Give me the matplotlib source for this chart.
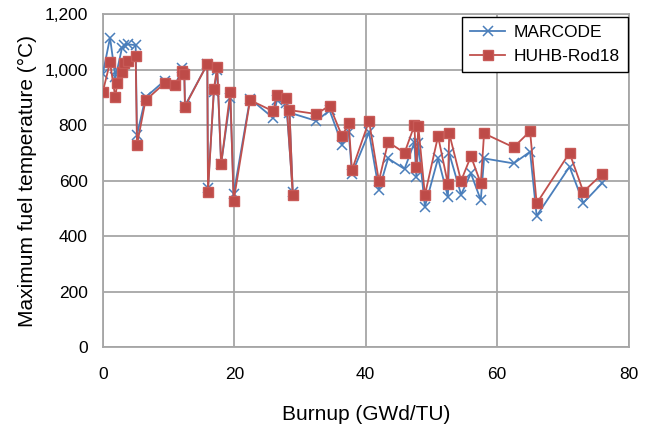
import matplotlib
matplotlib.use("Agg")
import matplotlib.pyplot as plt
from matplotlib.ticker import FuncFormatter

plt.rcParams['font.family'] = ['Liberation Sans', 'DejaVu Sans']

# burnup points (GWd/TU), shared by both series
burnup = [0.0, 1.1, 1.9, 2.2, 2.9, 3.3, 3.8, 5.0, 5.2, 6.5, 9.4, 11.0, 12.1, 12.4, 12.5,
          15.9, 16.0, 16.9, 17.4, 18.0, 19.4, 19.9, 22.4, 25.9, 26.5, 27.9, 28.9, 28.4,
          32.5, 34.5, 36.4, 37.4, 37.9, 40.5, 42.0, 43.4, 45.9, 47.4, 47.7, 48.0, 49.0,
          51.0, 52.5, 52.7, 54.5, 56.0, 57.5, 58.0, 62.5, 65.0, 66.0, 71.0, 73.1, 76.0]

# maximum fuel temperature (C)
marcode = [985, 1115, 975, 1000, 1076, 1088, 1091, 1088, 764, 900, 960, 944, 1004, 985, 870,
           1020, 575, 920, 1000, 660, 896, 552, 895, 826, 890, 880, 560, 845,
           815, 853, 730, 776, 625, 774, 566, 680, 642, 738, 612, 735, 506,
           680, 542, 698, 550, 626, 530, 680, 662, 704, 473, 650, 520, 592]
huhb = [920, 1026, 900, 952, 991, 1022, 1030, 1050, 729, 889, 951, 944, 996, 983, 867,
        1020, 560, 930, 1010, 659, 920, 527, 890, 850, 908, 898, 550, 854,
        840, 870, 760, 807, 638, 815, 599, 739, 700, 799, 648, 796, 548,
        760, 588, 770, 599, 688, 590, 770, 720, 778, 518, 700, 560, 624]

fig = plt.figure(figsize=(6.59, 4.26), dpi=100)
ax = fig.add_axes([0.156, 0.185, 0.798, 0.782])

ax.plot(burnup, marcode, color='#4a7ebb', lw=1.3, marker='x', ms=7, mew=1.1,
        label='MARCODE', zorder=3)
ax.plot(burnup, huhb, color='#c0504d', lw=1.3, marker='s', ms=6.5, mec='#c85a57',
        mfc='#be4b48', label='HUHB-Rod18', zorder=4)

ax.set_xlim(0, 80)
ax.set_ylim(0, 1200)
ax.set_xticks([0, 20, 40, 60, 80])
ax.set_yticks([0, 200, 400, 600, 800, 1000, 1200])
ax.yaxis.set_major_formatter(FuncFormatter(lambda v, p: f"{int(v):,}"))
ax.grid(True, color='#a6a6a6', lw=1.3)
ax.set_axisbelow(True)
for s in ax.spines.values():
    s.set_color('#a6a6a6')
    s.set_linewidth(1.3)
ax.tick_params(length=0, labelsize=12.5)
ax.tick_params(axis='x', pad=14)
ax.tick_params(axis='y', pad=11)

ax.set_xlabel('Burnup (GWd/TU)', fontsize=15, labelpad=17)
ax.set_ylabel('Maximum fuel temperature (°C)', fontsize=15, labelpad=5)

leg = ax.legend(loc='upper right', bbox_to_anchor=(0.998, 0.99), fontsize=12.5,
                fancybox=False, edgecolor='black', framealpha=1, handlelength=2.0,
                borderaxespad=0, borderpad=0.45, labelspacing=0.5,
                handletextpad=0.5)
leg._legend_box.sep = 0
leg.get_frame().set_linewidth(1.0)

fig.savefig('out.png', dpi=100)
